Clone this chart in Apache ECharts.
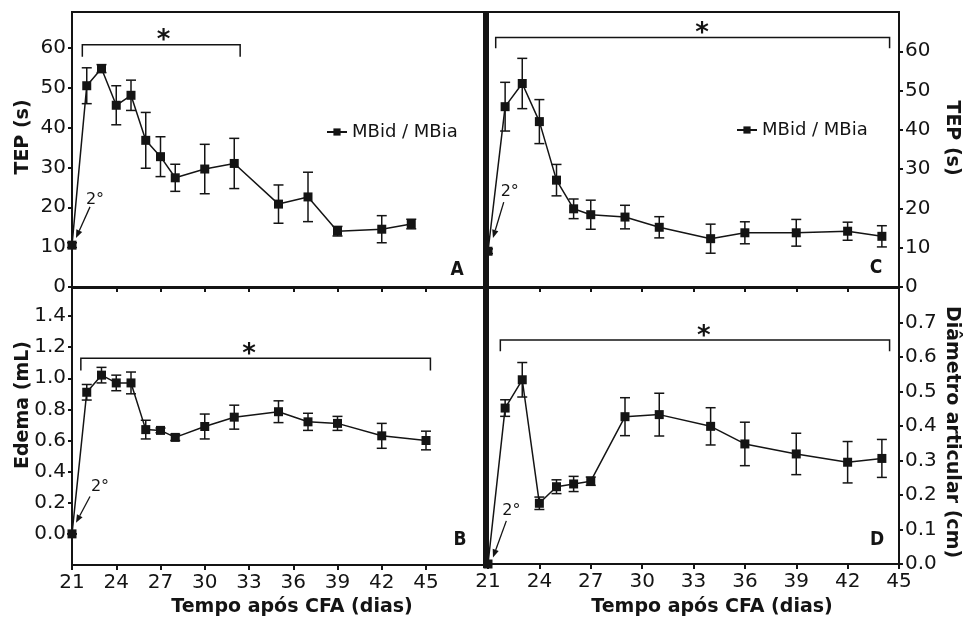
<!DOCTYPE html>
<html><head><meta charset="utf-8">
<script src="https://cdn.jsdelivr.net/npm/echarts@6/dist/echarts.min.js"></script>
<style>html,body{margin:0;padding:0;background:#fff}#c{width:963px;height:622px}</style>
</head><body><div id="c"></div><script>
// ---- data ----
const daysA = [21,22,23,24,25,26,27,28,30,32,35,37,39,42,44];
const tepA = [10.5,50.5,54.8,45.6,48.1,36.8,32.7,27.4,29.6,31.0,20.8,22.6,14.0,14.5,15.8];
const tepAErr = [0.6,4.5,1.0,4.9,3.8,7.0,5.0,3.4,6.2,6.3,4.8,6.2,1.2,3.4,1.2];
const daysB = [21,22,23,24,25,26,27,28,30,32,35,37,39,42,45];
const edemaB = [0.0,0.91,1.02,0.97,0.97,0.67,0.665,0.62,0.69,0.75,0.785,0.72,0.71,0.63,0.60];
const edemaBErr = [0.0,0.05,0.05,0.05,0.07,0.06,0.015,0.02,0.08,0.077,0.07,0.055,0.045,0.08,0.06];
const daysC = [21,22,23,24,25,26,27,29,31,34,36,39,42,44];
const tepC = [9.1,45.9,51.8,42.1,27.2,19.9,18.4,17.8,15.2,12.3,13.8,13.8,14.2,12.9];
const tepCErr = [0.6,6.2,6.4,5.6,4.0,2.5,3.7,3.0,2.7,3.7,2.8,3.4,2.3,2.7];
const daysD = [21,22,23,24,25,26,27,29,31,34,36,39,42,44];
const diamD = [0.0,0.452,0.534,0.176,0.224,0.232,0.24,0.427,0.433,0.399,0.348,0.319,0.295,0.306];
const diamDErr = [0.0,0.024,0.05,0.018,0.02,0.022,0.012,0.055,0.062,0.054,0.063,0.06,0.06,0.055];

const xTicks = [21,24,27,30,33,36,39,42,45];
const yTicksTEP = [0,10,20,30,40,50,60];
const yTicksEdema = [0,0.2,0.4,0.6,0.8,1.0,1.2,1.4];
const yTicksDiam = [0,0.1,0.2,0.3,0.4,0.5,0.6,0.7];

// brackets: [xStart, xEnd, yLine, yEnds, xStar]
const bracketA = [21.7, 32.4, 60.8, 57.8, 27.2];
const bracketB = [21.6, 45.3, 1.128, 1.05, 33.0];
const bracketC = [21.45, 44.45, 63.5, 60.8, 33.5];
const bracketD = [21.72, 44.45, 0.649, 0.617, 33.6];
// "2°" annotations: [textX, textY, arrowStartX, arrowStartY, arrowEndX, arrowEndY]
const annotA = [22.56, 21.8, 22.22, 20.1, 21.27, 12.3];
const annotB = [22.9, 0.30, 22.22, 0.24, 21.27, 0.071];
const annotC = [22.27, 24.1, 21.92, 21.6, 21.29, 12.5];
const annotD = [22.37, 0.155, 22.07, 0.125, 21.29, 0.019];

const seriesName = 'MBid / MBia';
const panelLetters = ['A','B','C','D'];

// ---- styling helpers ----
const FONT = 'DejaVu Sans';
const INK = '#141414';

function errData(days, vals, errs) {
  return days.map((d, i) => [d, vals[i] - errs[i], vals[i] + errs[i]]);
}
function errRender(params, api) {
  const x = api.value(0), lo = api.value(1), hi = api.value(2);
  const p1 = api.coord([x, hi]), p2 = api.coord([x, lo]);
  const w = 5, st = {stroke: INK, lineWidth: 1.5, fill: null};
  return {type: 'group', children: [
    {type: 'line', shape: {x1: p1[0], y1: p1[1], x2: p2[0], y2: p2[1]}, style: st},
    {type: 'line', shape: {x1: p1[0] - w, y1: p1[1], x2: p1[0] + w, y2: p1[1]}, style: st},
    {type: 'line', shape: {x1: p2[0] - w, y1: p2[1], x2: p2[0] + w, y2: p2[1]}, style: st}
  ]};
}
function bracketRender(params, api) {
  const x0 = api.value(0), x1 = api.value(1), yl = api.value(2), ye = api.value(3), xs = api.value(4);
  const a = api.coord([x0, yl]), b = api.coord([x1, yl]);
  const ae = api.coord([x0, ye]), be = api.coord([x1, ye]);
  const s = api.coord([xs, yl]);
  const st = {stroke: INK, lineWidth: 1.5, fill: null};
  return {type: 'group', children: [
    {type: 'polyline', shape: {points: [[ae[0], ae[1]], [a[0], a[1]], [b[0], b[1]], [be[0], be[1]]]}, style: st},
    {type: 'text', x: s[0], y: s[1] + 10, style: {text: '*', fill: INK, font: 'bold 26px "' + FONT + '"', align: 'center', verticalAlign: 'bottom'}}
  ]};
}
function annotRender(params, api) {
  const t = api.coord([api.value(0), api.value(1)]);
  const s = api.coord([api.value(2), api.value(3)]);
  const e = api.coord([api.value(4), api.value(5)]);
  const dx = e[0] - s[0], dy = e[1] - s[1], L = Math.sqrt(dx * dx + dy * dy);
  const ux = dx / L, uy = dy / L, hl = 8, hw = 3.2;
  const bx = e[0] - ux * hl, by = e[1] - uy * hl;
  return {type: 'group', children: [
    {type: 'line', shape: {x1: s[0], y1: s[1], x2: bx, y2: by}, style: {stroke: INK, lineWidth: 1.3}},
    {type: 'polygon', shape: {points: [[e[0], e[1]], [bx - uy * hw, by + ux * hw], [bx + uy * hw, by - ux * hw]]}, style: {fill: INK}},
    {type: 'text', x: t[0], y: t[1], style: {text: '2°', fill: INK, font: '16px "' + FONT + '"', align: 'center', verticalAlign: 'middle'}}
  ]};
}

const grids = [
  {left: 72, top: 12, width: 413, height: 275},
  {left: 72, top: 288, width: 413, height: 277},
  {left: 488, top: 12, width: 411, height: 275},
  {left: 488, top: 288, width: 411, height: 276}
].map(g => Object.assign(g, {show: true, borderColor: INK, borderWidth: 2, backgroundColor: 'transparent'}));

function xAxis(gi, max, labels) {
  return {
    type: 'value', gridIndex: gi, min: 21, max: max, interval: 3,
    axisLine: {show: true, onZero: false, lineStyle: {color: INK, width: 2}},
    axisTick: {show: true, inside: false, length: 5, customValues: xTicks, lineStyle: {color: INK, width: 2}},
    axisLabel: {show: labels, customValues: xTicks, margin: 8, color: INK, fontSize: 20, fontFamily: FONT},
    splitLine: {show: false}
  };
}
function yAxis(gi, min, max, ticks, pos, dec) {
  return {
    type: 'value', gridIndex: gi, min: min, max: max, position: pos,
    axisLine: {show: true, onZero: false, lineStyle: {color: INK, width: 2}},
    axisTick: {show: true, inside: false, length: 4, customValues: ticks, lineStyle: {color: INK, width: 2}},
    axisLabel: {show: true, customValues: ticks, margin: 6, color: INK, fontSize: 20, fontFamily: FONT,
      formatter: v => dec ? Number(v).toFixed(dec) : String(Math.round(v))},
    splitLine: {show: false}
  };
}

function lineSeries(name, gi, days, vals) {
  return {
    type: 'line', name: name, xAxisIndex: gi, yAxisIndex: gi, clip: false,
    data: days.map((d, i) => [d, vals[i]]),
    symbol: 'rect', symbolSize: 9, z: 5,
    lineStyle: {color: INK, width: 1.5}, itemStyle: {color: INK},
    emphasis: {disabled: true}
  };
}
function customSeries(gi, data, render, z) {
  return {type: 'custom', xAxisIndex: gi, yAxisIndex: gi, data: data, renderItem: render, clip: false, z: z, silent: true};
}

const titleFont = {fontSize: 19, fontWeight: 'bold', fontFamily: FONT, fill: INK, align: 'center', verticalAlign: 'middle'};
function gtext(text, x, y, rot, extra) {
  return {type: 'text', x: x, y: y, rotation: rot || 0, z: 100, style: Object.assign({}, titleFont, {text: text}, extra || {})};
}
const letterStyle = {fontSize: 19, fontFamily: '"DejaVu Sans Condensed", "DejaVu Sans"'};

const option = {
  backgroundColor: '#fff',
  animation: false,
  grid: grids,
  xAxis: [xAxis(0, 49, false), xAxis(1, 49, true), xAxis(2, 45, false), xAxis(3, 45, true)],
  yAxis: [
    yAxis(0, 0, 69, yTicksTEP, 'left', 0),
    yAxis(1, -0.2, 1.58, yTicksEdema, 'left', 1),
    yAxis(2, 0, 70, yTicksTEP, 'right', 0),
    yAxis(3, 0, 0.8, yTicksDiam, 'right', 1)
  ],
  legend: [
    {left: 321, top: 118, data: [seriesName], itemWidth: 20, itemHeight: 9, itemGap: 5, selectedMode: false,
      textStyle: {fontSize: 18, fontFamily: FONT, color: INK}},
    {left: 731, top: 116, data: [seriesName], itemWidth: 20, itemHeight: 9, itemGap: 5, selectedMode: false,
      textStyle: {fontSize: 18, fontFamily: FONT, color: INK}}
  ],
  series: [
    lineSeries(seriesName, 0, daysA, tepA),
    lineSeries('Edema', 1, daysB, edemaB),
    lineSeries(seriesName, 2, daysC, tepC),
    lineSeries('Diâmetro articular', 3, daysD, diamD),
    customSeries(0, errData(daysA, tepA, tepAErr), errRender, 4),
    customSeries(1, errData(daysB, edemaB, edemaBErr), errRender, 4),
    customSeries(2, errData(daysC, tepC, tepCErr), errRender, 4),
    customSeries(3, errData(daysD, diamD, diamDErr), errRender, 4),
    customSeries(0, [bracketA], bracketRender, 4),
    customSeries(1, [bracketB], bracketRender, 4),
    customSeries(2, [bracketC], bracketRender, 4),
    customSeries(3, [bracketD], bracketRender, 4),
    customSeries(0, [annotA], annotRender, 6),
    customSeries(1, [annotB], annotRender, 6),
    customSeries(2, [annotC], annotRender, 6),
    customSeries(3, [annotD], annotRender, 6)
  ],
  graphic: [
    {type: 'rect', shape: {x: 483, y: 11, width: 4.5, height: 557}, style: {fill: INK}, z: 90},
    gtext('TEP (s)', 23, 137, Math.PI / 2),
    gtext('Edema (mL)', 23, 405, Math.PI / 2),
    gtext('TEP (s)', 952, 138, -Math.PI / 2),
    gtext('Diâmetro articular (cm)', 952, 432, -Math.PI / 2),
    gtext('Tempo após CFA (dias)', 292, 607, 0),
    gtext('Tempo após CFA (dias)', 712, 607, 0),
    gtext(panelLetters[0], 457, 270, 0, letterStyle),
    gtext(panelLetters[1], 460, 540, 0, letterStyle),
    gtext(panelLetters[2], 876, 268, 0, letterStyle),
    gtext(panelLetters[3], 877, 540, 0, letterStyle)
  ]
};

const chart = echarts.init(document.getElementById('c'), null, {renderer: 'canvas'});
chart.setOption(option);
</script></body></html>
